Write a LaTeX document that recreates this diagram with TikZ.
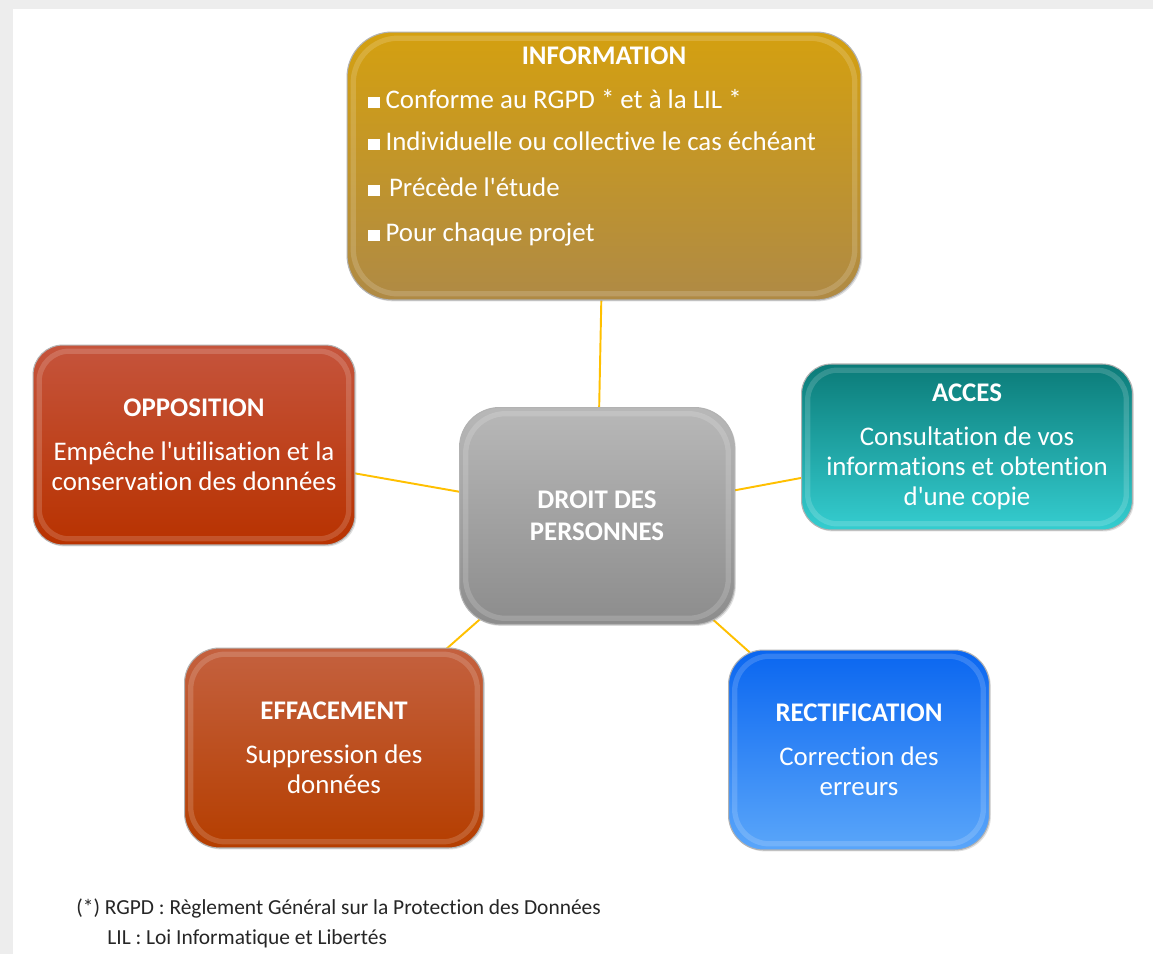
\documentclass[tikz,border=0pt]{standalone}
\usepackage{fontspec}
\setmainfont{Carlito}[Ligatures=NoCommon]
\usetikzlibrary{positioning,shadows,backgrounds}

\definecolor{pagegrey}{HTML}{EDEDED}
\definecolor{linkyellow}{HTML}{FFC000}
\definecolor{infotop}{HTML}{D4A010}
\definecolor{infobot}{HTML}{AF8A45}
\definecolor{oppotop}{HTML}{C5543C}
\definecolor{oppobot}{HTML}{B83200}
\definecolor{accestop}{HTML}{0B7B78}
\definecolor{accesbot}{HTML}{35CDD0}
\definecolor{droittop}{HTML}{B8B8B8}
\definecolor{droitbot}{HTML}{8C8C8C}
\definecolor{effatop}{HTML}{C4613F}
\definecolor{effabot}{HTML}{B53E00}
\definecolor{rectitop}{HTML}{0A66F0}
\definecolor{rectimid}{HTML}{12A2FF}
\definecolor{rectibot}{HTML}{5AA6FA}

\newcommand{\itemsq}{\rule{6.8pt}{6.2pt}\hspace{3pt}}

\tikzset{
  box/.style={rectangle, rounded corners=#1, draw=black!30, line width=0.6pt,
    text=white, align=center, font=\fontsize{15.3}{17}\selectfont,
    drop shadow={opacity=0.25, shadow xshift=0.8pt, shadow yshift=-0.8pt},
    path picture={\draw[white, opacity=0.16, line width=3pt, rounded corners=#1]
      ([shift={(3.5pt,3.5pt)}]path picture bounding box.south west) rectangle
      ([shift={(-3.5pt,-3.5pt)}]path picture bounding box.north east);}},
  box/.default=0.6cm,
  title/.style={anchor=base, text=white, inner sep=0pt, font=\fontsize{15.3}{17}\selectfont\bfseries},
  item/.style={anchor=base west, text=white, inner sep=0pt, font=\fontsize{15.3}{17}\selectfont},
  note/.style={anchor=base west, text=black!85, inner sep=0pt, font=\fontsize{12.2}{14}\selectfont},
  link/.style={draw=linkyellow, line width=1.1pt},
}

\begin{document}
\begin{tikzpicture}[x=0.02cm, y=-0.02cm]
  \useasboundingbox (0,0) rectangle (1153,954);

  \node[box=0.9cm, minimum width=10.28cm, minimum height=5.36cm, top color=infotop, bottom color=infobot] (info) at (604,166) {};
  \node[title] (infotitle) at (604,64) {INFORMATION};
  \node[item] (infoa) at (368,108) {\itemsq Conforme au RGPD * et à la LIL *};
  \node[item] (infob) at (368,150) {\itemsq Individuelle ou collective le cas échéant};
  \node[item] (infoc) at (368,196) {\itemsq\hspace{2pt}Précède l\textquotesingle étude};
  \node[item] (infod) at (368,241) {\itemsq Pour chaque projet};

  \node[box, minimum width=6.44cm, minimum height=4cm, top color=oppotop, bottom color=oppobot] (oppo) at (194,445)
    {\textbf{OPPOSITION}\\[8pt]Empêche l\textquotesingle utilisation et la\\conservation des données};
  \node[box, minimum width=6.62cm, minimum height=3.32cm, top color=accestop, bottom color=accesbot] (acces) at (967,447)
    {\textbf{ACCES}\\[8pt]Consultation de vos\\informations et obtention\\d\textquotesingle une copie};
  \node[box=0.8cm, minimum width=5.5cm, minimum height=4.34cm, top color=droittop, bottom color=droitbot, font=\fontsize{15.3}{18.5}\selectfont\bfseries] (droit) at (597,516)
    {DROIT DES\\PERSONNES};
  \node[box=0.7cm, minimum width=5.98cm, minimum height=4cm, top color=effatop, bottom color=effabot] (effa) at (334,748)
    {\textbf{EFFACEMENT}\\[8pt]Suppression des\\données};
  \node[box=0.7cm, minimum width=5.22cm, minimum height=4cm, top color=rectitop, middle color=rectimid, bottom color=rectibot] (recti) at (859,750)
    {\textbf{RECTIFICATION}\\[8pt]Correction des\\erreurs};

  \node[note] (notea) at (76,914) {(*) RGPD : Règlement Général sur la Protection des Données};
  \node[note] (noteb) at (107,944) {LIL : Loi Informatique et Libertés};

  \begin{scope}[on background layer]
    \fill[pagegrey] (0,0) rectangle (1153,954);
    \fill[white] (13,9) rectangle (1153,954);
    \draw[link] (droit.center) -- (info.center);
    \draw[link] (droit.center) -- (oppo.center);
    \draw[link] (droit.center) -- (acces.center);
    \draw[link] (droit.center) -- (effa.center);
    \draw[link] (droit.center) -- (recti.center);
  \end{scope}
\end{tikzpicture}
\end{document}
